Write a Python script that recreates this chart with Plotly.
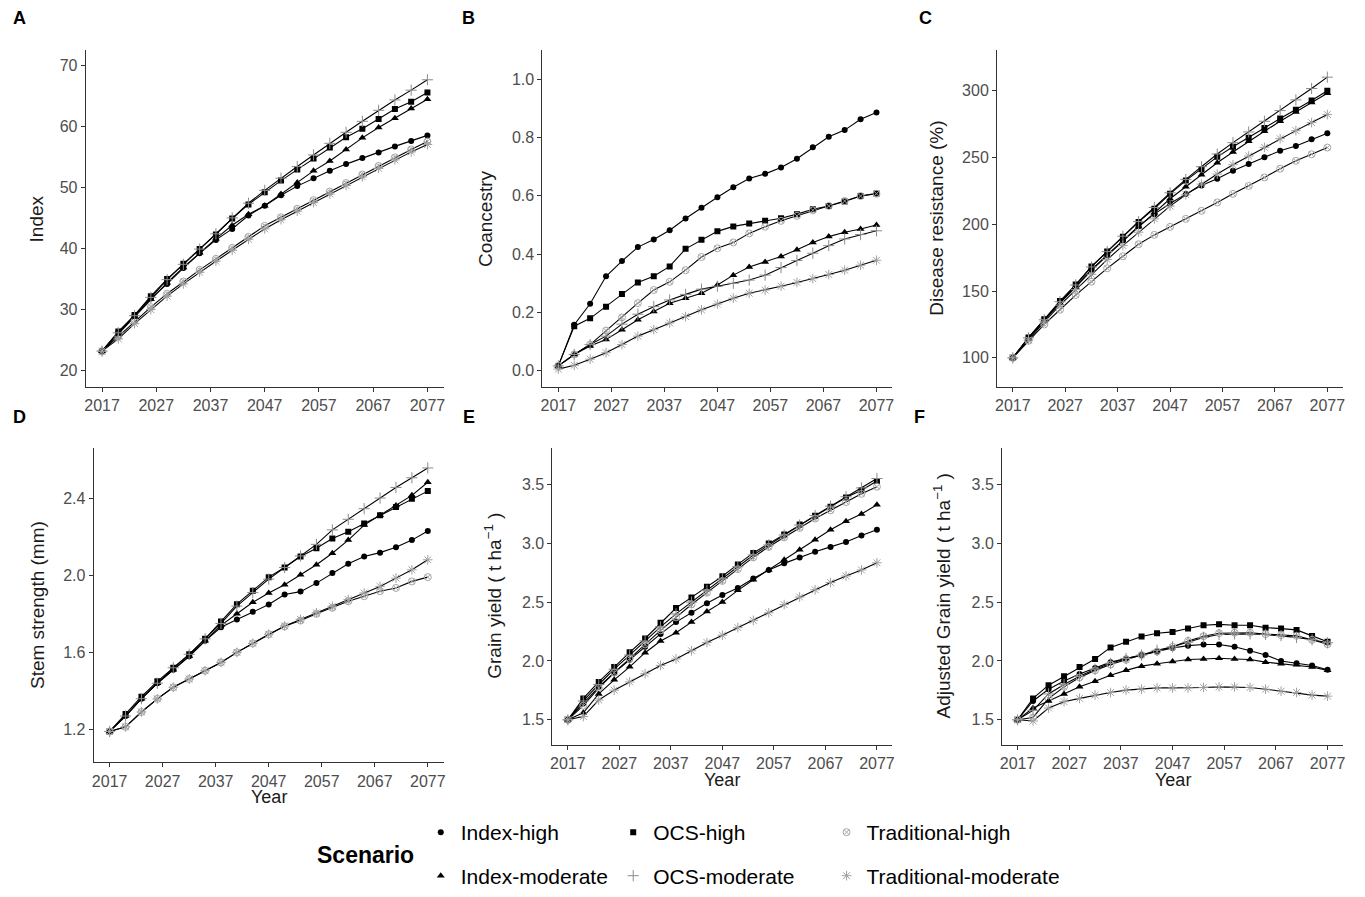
import plotly.graph_objects as go

# Figure fills the 1365x897 window exactly (page body margin removed on load).
W, H = 1365, 897
SY = 1.009  # small vertical calibration


def px_x(px):
    return px / W


def px_y(py):
    return 1 - py * SY / H


years = [2017, 2020, 2023, 2026, 2029, 2032, 2035, 2038, 2041, 2044, 2047,
         2050, 2053, 2056, 2059, 2062, 2065, 2068, 2071, 2074, 2077]

scenarios = ["Index-high", "OCS-high", "Traditional-high",
             "Index-moderate", "OCS-moderate", "Traditional-moderate"]

# ---------------- Panel A: Index ----------------
A_index_high = [23.2, 26.3, 29.0, 31.8, 34.2, 36.8, 39.2, 41.4, 43.2, 45.4, 47.0,
                48.7, 50.2, 51.5, 52.7, 53.8, 54.8, 55.7, 56.7, 57.6, 58.5]
A_ocs_high = [23.2, 26.4, 29.1, 32.2, 35.0, 37.5, 39.9, 42.3, 44.9, 47.2, 49.2,
              51.1, 52.9, 54.7, 56.5, 58.2, 59.6, 61.2, 62.8, 64.0, 65.5]
A_trad_high = [23.2, 25.6, 28.1, 30.4, 32.6, 34.6, 36.5, 38.3, 40.1, 41.9, 43.7,
               45.1, 46.5, 47.9, 49.3, 50.7, 52.1, 53.5, 54.9, 56.2, 57.5]
A_index_mod = [23.2, 26.0, 28.8, 31.7, 34.4, 36.9, 39.3, 41.6, 43.8, 45.6, 47.0,
               48.9, 50.8, 52.7, 54.3, 56.2, 58.1, 59.8, 61.3, 62.9, 64.4]
A_ocs_mod = [23.2, 26.2, 29.0, 32.0, 34.9, 37.4, 39.9, 42.4, 45.0, 47.4, 49.5,
             51.5, 53.4, 55.3, 57.2, 59.0, 60.8, 62.6, 64.3, 65.9, 67.6]
A_trad_mod = [23.2, 25.2, 27.7, 30.0, 32.2, 34.2, 36.1, 37.9, 39.7, 41.5, 43.2,
              44.7, 46.1, 47.5, 48.9, 50.3, 51.7, 53.1, 54.5, 55.8, 57.0]

# ---------------- Panel B: Coancestry ----------------
B_index_high = [0.017, 0.158, 0.23, 0.324, 0.376, 0.424, 0.45, 0.482, 0.522, 0.559, 0.595,
                0.629, 0.659, 0.675, 0.697, 0.727, 0.766, 0.802, 0.825, 0.862, 0.885]
B_ocs_high = [0.017, 0.153, 0.18, 0.22, 0.263, 0.303, 0.324, 0.358, 0.418, 0.449, 0.478,
              0.495, 0.505, 0.514, 0.523, 0.537, 0.554, 0.565, 0.58, 0.599, 0.608]
B_trad_high = [0.017, 0.056, 0.09, 0.138, 0.183, 0.232, 0.277, 0.305, 0.345, 0.39, 0.42,
               0.44, 0.471, 0.494, 0.514, 0.531, 0.55, 0.565, 0.582, 0.599, 0.607]
B_index_mod = [0.017, 0.056, 0.085, 0.107, 0.141, 0.175, 0.203, 0.232, 0.249, 0.266, 0.294,
               0.328, 0.356, 0.373, 0.392, 0.415, 0.44, 0.46, 0.475, 0.486, 0.5]
B_ocs_mod = [0.017, 0.056, 0.09, 0.119, 0.16, 0.194, 0.22, 0.243, 0.262, 0.28, 0.29,
             0.3, 0.311, 0.328, 0.354, 0.378, 0.403, 0.429, 0.452, 0.467, 0.48]
B_trad_mod = [0.006, 0.019, 0.04, 0.062, 0.09, 0.119, 0.141, 0.164, 0.186, 0.209, 0.229,
              0.249, 0.266, 0.277, 0.29, 0.303, 0.316, 0.33, 0.345, 0.362, 0.379]

# ---------------- Panel C: Disease resistance ----------------
C_index_high = [100, 115, 128.5, 141.5, 153.5, 166, 177, 188, 198.5, 207.5, 215.5,
                222.5, 229, 234, 240, 245, 250, 255, 258.5, 263.5, 268]
C_ocs_high = [100, 115.3, 128.9, 142.5, 154.8, 168.4, 179.5, 190.6, 201.7, 211.6, 222.7,
              232.6, 241.2, 250.4, 258, 264.7, 272, 279, 285.7, 292.6, 299.8]
C_trad_high = [100, 112.8, 125, 136, 147, 157, 167, 176, 185, 192, 198,
               204, 210, 216.3, 222.7, 228.6, 235, 241.5, 247.4, 252.3, 257.3]
C_index_mod = [100, 114.5, 128, 141, 153, 165.5, 176.5, 187.5, 198, 208.5, 219,
               228, 237, 246, 254, 262, 269.5, 277, 284, 291, 298]
C_ocs_mod = [100, 115, 128.5, 142, 154.5, 168, 179.5, 191, 202, 212.5, 223.5,
             233.5, 243, 252.5, 261, 269, 277, 285, 293, 301.5, 310]
C_trad_mod = [100, 113.5, 127, 139.5, 151, 162.5, 173.5, 184, 194, 204, 213.5,
              222, 230, 237.5, 244.5, 251, 257.5, 264, 270, 276, 282]

# ---------------- Panel D: Stem strength ----------------
D_index_high = [1.19, 1.27, 1.36, 1.44, 1.51, 1.58, 1.66, 1.73, 1.77, 1.81, 1.848,
                1.90, 1.915, 1.959, 2.011, 2.059, 2.097, 2.117, 2.145, 2.182, 2.229]
D_ocs_high = [1.19, 1.28, 1.37, 1.45, 1.52, 1.59, 1.67, 1.76, 1.85, 1.92, 1.99,
              2.04, 2.097, 2.14, 2.19, 2.225, 2.268, 2.311, 2.354, 2.397, 2.436]
D_trad_high = [1.19, 1.214, 1.291, 1.359, 1.419, 1.462, 1.505, 1.548, 1.60, 1.647, 1.694,
               1.735, 1.765, 1.80, 1.831, 1.865, 1.891, 1.917, 1.934, 1.968, 1.99]
D_index_mod = [1.19, 1.27, 1.36, 1.44, 1.51, 1.58, 1.66, 1.74, 1.80, 1.86, 1.908,
               1.951, 2.002, 2.054, 2.114, 2.182, 2.26, 2.311, 2.362, 2.414, 2.482]
D_ocs_mod = [1.19, 1.27, 1.36, 1.44, 1.52, 1.59, 1.67, 1.75, 1.84, 1.91, 1.98,
             2.04, 2.10, 2.16, 2.235, 2.29, 2.345, 2.40, 2.455, 2.505, 2.556]
D_trad_mod = [1.19, 1.214, 1.291, 1.359, 1.419, 1.462, 1.505, 1.548, 1.60, 1.647, 1.694,
              1.737, 1.771, 1.805, 1.839, 1.874, 1.908, 1.942, 1.985, 2.028, 2.08]

# ---------------- Panel E: Grain yield ----------------
E_index_high = [1.5, 1.64, 1.78, 1.90, 2.01, 2.12, 2.23, 2.33, 2.41, 2.49, 2.56,
                2.62, 2.70, 2.773, 2.829, 2.879, 2.927, 2.969, 3.01, 3.066, 3.114]
E_ocs_high = [1.5, 1.682, 1.822, 1.948, 2.073, 2.191, 2.325, 2.45, 2.54, 2.63, 2.72,
              2.82, 2.918, 2.997, 3.075, 3.159, 3.234, 3.31, 3.388, 3.45, 3.528]
E_trad_high = [1.5, 1.62, 1.77, 1.90, 2.02, 2.14, 2.26, 2.37, 2.48, 2.58, 2.68,
               2.78, 2.88, 2.97, 3.05, 3.13, 3.21, 3.28, 3.35, 3.42, 3.48]
E_index_mod = [1.5, 1.56, 1.72, 1.84, 1.95, 2.07, 2.17, 2.24, 2.33, 2.42, 2.50,
               2.60, 2.69, 2.773, 2.86, 2.945, 3.03, 3.114, 3.187, 3.248, 3.327]
E_ocs_mod = [1.5, 1.66, 1.80, 1.93, 2.05, 2.17, 2.29, 2.40, 2.50, 2.60, 2.70,
             2.80, 2.90, 2.985, 3.07, 3.155, 3.235, 3.315, 3.395, 3.47, 3.55]
E_trad_mod = [1.5, 1.528, 1.668, 1.752, 1.822, 1.892, 1.962, 2.017, 2.087, 2.157, 2.219,
              2.283, 2.345, 2.409, 2.479, 2.543, 2.605, 2.666, 2.722, 2.773, 2.834]

# ---------------- Panel F: Adjusted grain yield ----------------
F_index_high = [1.5, 1.66, 1.76, 1.83, 1.89, 1.94, 1.99, 2.02, 2.05, 2.08, 2.11,
                2.13, 2.14, 2.14, 2.12, 2.087, 2.051, 2.0, 1.981, 1.962, 1.925]
F_ocs_high = [1.5, 1.682, 1.794, 1.87, 1.948, 2.017, 2.115, 2.163, 2.208, 2.236, 2.247,
              2.275, 2.303, 2.311, 2.303, 2.303, 2.283, 2.275, 2.264, 2.213, 2.163]
F_trad_high = [1.5, 1.52, 1.68, 1.78, 1.86, 1.92, 1.97, 2.01, 2.05, 2.08, 2.12,
               2.17, 2.21, 2.236, 2.24, 2.24, 2.228, 2.22, 2.213, 2.18, 2.143]
F_index_mod = [1.5, 1.60, 1.66, 1.72, 1.78, 1.827, 1.878, 1.92, 1.956, 1.976, 1.995,
               2.012, 2.017, 2.023, 2.017, 2.012, 1.99, 1.976, 1.967, 1.948, 1.92]
F_ocs_mod = [1.5, 1.58, 1.72, 1.80, 1.87, 1.93, 1.98, 2.02, 2.05, 2.09, 2.12,
             2.16, 2.20, 2.225, 2.23, 2.23, 2.225, 2.215, 2.20, 2.18, 2.155]
F_trad_mod = [1.5, 1.49, 1.60, 1.654, 1.682, 1.71, 1.732, 1.752, 1.76, 1.771, 1.771,
              1.771, 1.775, 1.78, 1.78, 1.775, 1.76, 1.743, 1.732, 1.71, 1.701]

panel_data = {
    "A": [A_index_high, A_ocs_high, A_trad_high, A_index_mod, A_ocs_mod, A_trad_mod],
    "B": [B_index_high, B_ocs_high, B_trad_high, B_index_mod, B_ocs_mod, B_trad_mod],
    "C": [C_index_high, C_ocs_high, C_trad_high, C_index_mod, C_ocs_mod, C_trad_mod],
    "D": [D_index_high, D_ocs_high, D_trad_high, D_index_mod, D_ocs_mod, D_trad_mod],
    "E": [E_index_high, E_ocs_high, E_trad_high, E_index_mod, E_ocs_mod, E_trad_mod],
    "F": [F_index_high, F_ocs_high, F_trad_high, F_index_mod, F_ocs_mod, F_trad_mod],
}

y_titles = {
    "A": "Index",
    "B": "Coancestry",
    "C": "Disease resistance (%)",
    "D": "Stem strength (mm)",
    "E": "Grain yield ( t ha<sup>\u22121</sup> )",
    "F": "Adjusted Grain yield ( t ha<sup>\u22121</sup> )",
}
y_ticks = {
    "A": [20, 30, 40, 50, 60, 70],
    "B": [0.0, 0.2, 0.4, 0.6, 0.8, 1.0],
    "C": [100, 150, 200, 250, 300],
    "D": [1.2, 1.6, 2.0, 2.4],
    "E": [1.5, 2.0, 2.5, 3.0, 3.5],
    "F": [1.5, 2.0, 2.5, 3.0, 3.5],
}
y_fmt = {"A": "d", "B": ".1f", "C": "d", "D": ".1f", "E": ".1f", "F": ".1f"}
y_ranges = {
    "A": [17.4, 72.4],
    "B": [-0.054, 1.098],
    "C": [78.5, 330],
    "D": [1.03, 2.66],
    "E": [1.29, 3.81],
    "F": [1.29, 3.81],
}
x_ticks = [2017, 2027, 2037, 2047, 2057, 2067, 2077]

# panel boxes in page pixels: left, right, top, bottom
boxes = {
    "A": (84, 443, 51, 391),
    "B": (542, 893, 51, 391),
    "C": (998, 1345, 51, 391),
    "D": (92, 443, 453, 771),
    "E": (552, 893, 453, 753),
    "F": (1003, 1345, 453, 753),
}
label_pos = {"A": (18, 18), "B": (468, 18), "C": (926, 18),
             "D": (18, 422), "E": (468, 422), "F": (920, 422)}
ytitle_x = {"A": 35, "B": 485, "C": 937, "D": 35, "E": 493, "F": 943}
xtitle_y = {"D": 806, "E": 789, "F": 789}

styles = {
    "Index-high": dict(symbol="circle", size=6, color="black",
                       line=dict(width=0, color="black")),
    "OCS-high": dict(symbol="square", size=6, color="black",
                     line=dict(width=0, color="black")),
    "Traditional-high": dict(symbol="circle-x-open", size=7, color="#a6a6a6",
                             line=dict(width=1, color="#a6a6a6")),
    "Index-moderate": dict(symbol="triangle-up", size=7, color="black",
                           line=dict(width=0, color="black")),
    "OCS-moderate": dict(symbol="cross-thin-open", size=8, color="#8c8c8c",
                         line=dict(width=1, color="#8c8c8c")),
    "Traditional-moderate": dict(symbol="asterisk-open", size=8, color="#a0a0a0",
                                 line=dict(width=1, color="#a0a0a0")),
}

FONT = "Liberation Sans, Arial, sans-serif"
AXCOL = "#333333"
TICKCOL = "#4d4d4d"
TICK_SIZE = 16
TITLE_SIZE = 19

fig = go.Figure()
annotations = []
layout = dict(
    width=W, height=H,
    margin=dict(l=0, r=0, t=0, b=0),
    paper_bgcolor="white", plot_bgcolor="white",
    font=dict(family=FONT, size=14, color="black"),
    showlegend=True,
)

panels = ["A", "B", "C", "D", "E", "F"]
for i, p in enumerate(panels):
    n = "" if i == 0 else str(i + 1)
    xa, ya = "x" + n, "y" + n
    l, r, t, b = boxes[p]
    xdom = [px_x(l), px_x(r)]
    ydom = [px_y(b), px_y(t)]
    for s, vals in zip(scenarios, panel_data[p]):
        fig.add_trace(go.Scatter(x=years, y=vals, mode="lines",
                                 line=dict(color="black", width=1.1),
                                 xaxis=xa, yaxis=ya, showlegend=False,
                                 hoverinfo="skip"))
    for k, (s, vals) in enumerate(zip(scenarios, panel_data[p])):
        fig.add_trace(go.Scatter(x=years, y=vals, mode="markers", name=s,
                                 marker=styles[s], xaxis=xa, yaxis=ya,
                                 showlegend=(p == "A"),
                                 legend=("legend" if k == 0 else "legend" + str(k + 1))))
    layout["xaxis" + n] = dict(
        domain=xdom, anchor=ya, range=[2014, 2080],
        tickmode="array", tickvals=x_ticks, ticktext=[str(v) for v in x_ticks],
        showline=True, linecolor=AXCOL, linewidth=1.1, mirror=False,
        ticks="outside", ticklen=4, tickcolor=AXCOL, tickwidth=1,
        showgrid=False, zeroline=False,
        tickfont=dict(size=TICK_SIZE, color=TICKCOL, family=FONT),
    )
    layout["yaxis" + n] = dict(
        domain=ydom, anchor=xa, range=y_ranges[p],
        tickmode="array", tickvals=y_ticks[p], tickformat=y_fmt[p],
        showline=True, linecolor=AXCOL, linewidth=1.1,
        ticks="outside", ticklen=4, tickcolor=AXCOL, tickwidth=1,
        showgrid=False, zeroline=False,
        tickfont=dict(size=TICK_SIZE, color=TICKCOL, family=FONT),
    )
    annotations.append(dict(
        text=y_titles[p], x=px_x(ytitle_x[p]), y=(ydom[0] + ydom[1]) / 2,
        xref="paper", yref="paper", xanchor="center", yanchor="middle",
        textangle=-90, showarrow=False,
        font=dict(size=TITLE_SIZE, color="#1a1a1a", family=FONT)))
    if p in xtitle_y:
        annotations.append(dict(
            text="Year", x=(xdom[0] + xdom[1]) / 2, y=px_y(xtitle_y[p]),
            xref="paper", yref="paper", xanchor="center", yanchor="middle",
            showarrow=False, font=dict(size=18, color="#1a1a1a", family=FONT)))
    lx, ly = label_pos[p]
    annotations.append(dict(
        text="<b>" + p + "</b>", x=px_x(lx), y=px_y(ly), xref="paper", yref="paper",
        xanchor="center", yanchor="middle", showarrow=False,
        font=dict(size=18, color="black", family=FONT)))

# legend: one legend box per scenario, arranged 3 columns x 2 rows
leg_marker_x = [441, 634, 848, 441, 634, 848]
leg_y = [841, 841, 841, 885, 885, 885]
for k in range(6):
    key = "legend" if k == 0 else "legend" + str(k + 1)
    layout[key] = dict(
        x=px_x(leg_marker_x[k] - 21), y=px_y(leg_y[k] + 1),
        xanchor="left", yanchor="middle", orientation="h",
        bgcolor="rgba(0,0,0,0)", borderwidth=0,
        font=dict(size=21, color="black", family=FONT),
        itemsizing="trace",
    )
annotations.append(dict(
    text="<b>Scenario</b>", x=px_x(365), y=px_y(865), xref="paper", yref="paper",
    xanchor="center", yanchor="middle", showarrow=False,
    font=dict(size=23, color="black", family=FONT)))

layout["annotations"] = annotations
fig.update_layout(**layout)
fig.write_html(
    "out.html",
    config={"displayModeBar": False},
    post_script="document.body.style.margin='0';document.body.style.overflow='hidden';",
)
